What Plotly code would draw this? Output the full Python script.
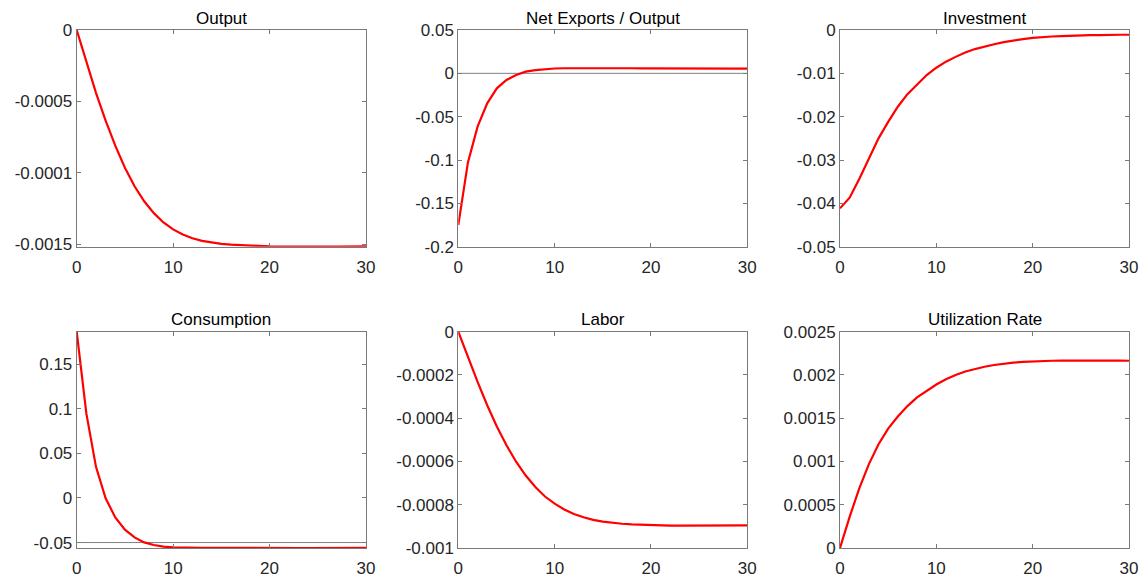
import plotly.graph_objects as go

periods = list(range(31))

output = [0, -0.000225, -0.000440, -0.000635, -0.000810, -0.000965, -0.001095, -0.001200,
          -0.001283, -0.001348, -0.001397, -0.001433, -0.001459, -0.001477, -0.001489,
          -0.001498, -0.001504, -0.001508, -0.001511, -0.001514, -0.001516, -0.001517,
          -0.001518, -0.001518, -0.001518, -0.001518, -0.001518, -0.001517, -0.001517,
          -0.001516, -0.001515]

net_exports = [-0.175, -0.1027, -0.0615, -0.0346, -0.0173, -0.0077, -0.0019, 0.0019, 0.0038,
               0.0050, 0.0056, 0.0059, 0.0060, 0.0060, 0.0060, 0.0060, 0.0059, 0.0059, 0.0059,
               0.0058, 0.0058, 0.0058, 0.0057, 0.0057, 0.0056, 0.0056, 0.0056, 0.0055, 0.0055,
               0.0055, 0.0054]

investment = [-0.04115, -0.0387, -0.0344, -0.0296, -0.0250, -0.0212, -0.0177, -0.0148, -0.0125,
              -0.0104, -0.0087, -0.0073, -0.0062, -0.0052, -0.0044, -0.0038, -0.0033, -0.0028,
              -0.0024, -0.0021, -0.0018, -0.0016, -0.0015, -0.0014, -0.0013, -0.0013, -0.0012,
              -0.0012, -0.0011, -0.0011, -0.0011]

consumption = [0.1862, 0.0947, 0.0348, -0.0004, -0.0218, -0.0356, -0.0442, -0.0498, -0.0527,
               -0.0546, -0.0554, -0.0558, -0.0559, -0.0560, -0.0560, -0.0561, -0.0561, -0.0561,
               -0.0561, -0.0561, -0.0561, -0.0561, -0.0561, -0.0561, -0.0561, -0.0561, -0.0561,
               -0.0561, -0.0560, -0.0560, -0.0560]

labor = [0, -0.000118, -0.000232, -0.000340, -0.000438, -0.000525, -0.000601, -0.000665,
         -0.000718, -0.000762, -0.000795, -0.000822, -0.000843, -0.000858, -0.000870,
         -0.000878, -0.000884, -0.000888, -0.000891, -0.000893, -0.000895, -0.000896,
         -0.000897, -0.000897, -0.000897, -0.000897, -0.000897, -0.000897, -0.000896,
         -0.000896, -0.000895]

utilization = [0, 0.00036, 0.00069, 0.00097, 0.00120, 0.00138, 0.00152, 0.00164, 0.00174,
               0.00182, 0.00189, 0.00195, 0.00200, 0.00204, 0.00207, 0.002095, 0.002115,
               0.00213, 0.002142, 0.002151, 0.002157, 0.002161, 0.002164, 0.002166, 0.002167,
               0.002167, 0.002167, 0.002166, 0.002166, 0.002165, 0.002164]

titles = ["Output", "Net Exports / Output", "Investment",
          "Consumption", "Labor", "Utilization Rate"]

series = [output, net_exports, investment, consumption, labor, utilization]

# reference (gray) lines: panel index -> level
ref_levels = {1: 0.0, 3: -0.05}

y_ranges = [[-0.001518, 0], [-0.2, 0.05], [-0.05, 0],
            [-0.0561, 0.1862], [-0.001, 0], [0, 0.0025]]

y_tickvals = [[0, -0.0005, -0.001, -0.0015],
              [0.05, 0, -0.05, -0.1, -0.15, -0.2],
              [0, -0.01, -0.02, -0.03, -0.04, -0.05],
              [0.15, 0.1, 0.05, 0, -0.05],
              [0, -0.0002, -0.0004, -0.0006, -0.0008, -0.001],
              [0.0025, 0.002, 0.0015, 0.001, 0.0005, 0]]

y_ticktext = [["0", "-0.0005", "-0.0001", "-0.0015"],
              ["0.05", "0", "-0.05", "-0.1", "-0.15", "-0.2"],
              ["0", "-0.01", "-0.02", "-0.03", "-0.04", "-0.05"],
              ["0.15", "0.1", "0.05", "0", "-0.05"],
              ["0", "-0.0002", "-0.0004", "-0.0006", "-0.0008", "-0.001"],
              ["0.0025", "0.002", "0.0015", "0.001", "0.0005", "0"]]

x_tickvals = [0, 10, 20, 30]
x_ticktext = ["0", "10", "20", "30"]

W, H = 1148, 578
col_px = [(76.7, 366.0), (458.3, 747.3), (840.0, 1129.0)]
row_px = [(30.0, 246.7), (331.7, 548.0)]

FONT = "Liberation Sans, Arial, Helvetica, sans-serif"
AXCOL = "#7a7a7a"
FS = 17

fig = go.Figure()
layout = dict(
    width=W, height=H,
    margin=dict(l=0, r=0, t=0, b=0, autoexpand=False),
    paper_bgcolor="white", plot_bgcolor="white",
    showlegend=False,
    font=dict(family=FONT, size=FS, color="#262626"),
    annotations=[],
)

for i in range(6):
    r, c = divmod(i, 3)
    n = i + 1
    xa = "x" if n == 1 else f"x{n}"
    ya = "y" if n == 1 else f"y{n}"
    xkey = "xaxis" if n == 1 else f"xaxis{n}"
    ykey = "yaxis" if n == 1 else f"yaxis{n}"
    x0, x1 = col_px[c]
    t0, t1 = row_px[r]
    common = dict(showline=True, linecolor=AXCOL, linewidth=1, mirror="ticks",
                  ticks="inside", ticklen=4, tickcolor=AXCOL, tickwidth=1,
                  showgrid=False, zeroline=False, automargin=False,
                  tickfont=dict(family=FONT, size=FS, color="#262626"))
    layout[xkey] = dict(domain=[x0 / W, x1 / W], anchor=ya, range=[0, 30],
                        tickmode="array", tickvals=x_tickvals, ticktext=x_ticktext,
                        ticklabelstandoff=5, **common)
    layout[ykey] = dict(domain=[1 - t1 / H, 1 - t0 / H], anchor=xa, range=y_ranges[i],
                        tickmode="array", tickvals=y_tickvals[i], ticktext=y_ticktext[i], **common)
    if i in ref_levels:
        lvl = ref_levels[i]
        fig.add_trace(go.Scatter(x=[periods[0], periods[-1]], y=[lvl, lvl], mode="lines",
                                 line=dict(color="#808080", width=1), xaxis=xa, yaxis=ya,
                                 hoverinfo="skip"))
    fig.add_trace(go.Scatter(x=periods, y=series[i], mode="lines",
                             line=dict(color="#ff0000", width=2.2), xaxis=xa, yaxis=ya,
                             cliponaxis=True))
    layout["annotations"].append(dict(
        text=titles[i], xref="paper", yref="paper",
        x=(x0 + x1) / 2 / W, y=1 - (t0 - 12) / H,
        xanchor="center", yanchor="middle", showarrow=False,
        font=dict(family=FONT, size=FS, color="#000000")))

fig.update_layout(**layout)
# remove the default 8px page margin so the figure fills the window exactly
fig.write_html("out.html",
               config={"displayModeBar": False},
               post_script="document.body.style.margin='0';document.body.style.overflow='hidden';")
